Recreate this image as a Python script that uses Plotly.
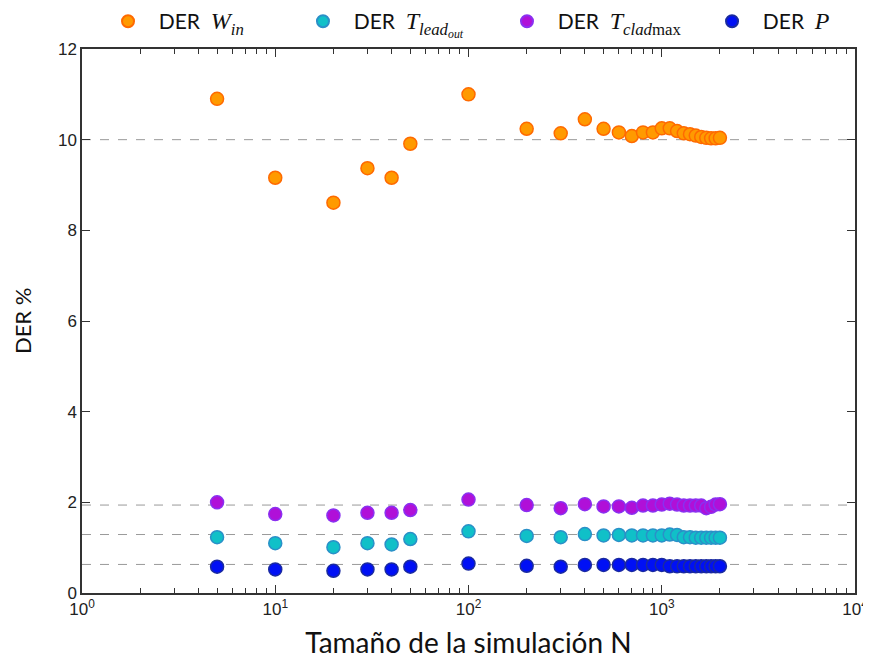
import plotly.graph_objects as go

# ---- data ----
N = [5, 10, 20, 30, 40, 50, 100, 200, 300, 400, 500, 600, 700, 800, 900,
     1000, 1100, 1200, 1300, 1400, 1500, 1600, 1700, 1800, 1900, 2000]

der_win = [10.90, 9.16, 8.61, 9.37, 9.16, 9.91, 11.00, 10.24, 10.14, 10.45,
           10.24, 10.16, 10.08, 10.16, 10.16, 10.25, 10.25, 10.19, 10.14,
           10.12, 10.09, 10.06, 10.04, 10.03, 10.03, 10.04]
der_tlead = [1.23, 1.10, 1.01, 1.10, 1.07, 1.19, 1.36, 1.26, 1.23, 1.30,
             1.27, 1.28, 1.27, 1.27, 1.27, 1.27, 1.29, 1.28, 1.23, 1.23,
             1.22, 1.22, 1.22, 1.22, 1.22, 1.22]
der_tclad = [2.00, 1.74, 1.71, 1.77, 1.77, 1.83, 2.06, 1.94, 1.87, 1.96,
             1.91, 1.91, 1.88, 1.93, 1.93, 1.95, 1.97, 1.95, 1.93, 1.93,
             1.93, 1.93, 1.87, 1.90, 1.95, 1.96]
der_p = [0.58, 0.52, 0.49, 0.52, 0.52, 0.58, 0.65, 0.60, 0.58, 0.62,
         0.62, 0.62, 0.62, 0.62, 0.62, 0.62, 0.59, 0.59, 0.59, 0.59,
         0.59, 0.59, 0.59, 0.59, 0.59, 0.59]

ref_lines = [10.0, 1.94, 1.29, 0.63]

x_tickvals = [1, 10, 100, 1000, 10000]
x_ticktext = ["10<sup>0</sup>", "10<sup>1</sup>", "10<sup>2</sup>",
              "10<sup>3</sup>", "10<sup>4</sup>"]
x_minor = [m * 10 ** d for d in range(4) for m in range(2, 10)]
y_tickvals = [0, 2, 4, 6, 8, 10, 12]

x_title = "Tamaño de la simulación N"
y_title = "DER %"

SERIF = "Liberation Serif"
def mathlbl(body):
    return ('\u00a0\u00a0DER \u00a0<span style="font-family:%s;font-size:24px">%s</span>'
            % (SERIF, body))

names = [
    mathlbl("<i>W</i><sub><i>in</i></sub>"),
    mathlbl("<i>T</i><sub><i>lead<sub>out</sub></i></sub>"),
    mathlbl("<i>T</i><sub><i>clad</i>max</sub>"),
    mathlbl("<i>P</i>"),
]
series = [der_win, der_tlead, der_tclad, der_p]
fills = ["#FF9A00", "#10C0C8", "#B010D8", "#0010F5"]
edges = ["#FF6A00", "#2A90C8", "#8A30F0", "#1A2AA0"]
legend_ids = ["legend", "legend2", "legend3", "legend4"]
legend_x = [0.1159, 0.3418, 0.5782, 0.8158]

W, H = 863, 664  # page body has an 8px margin

fig = go.Figure()
for nm, ys, fc, ec, lid in zip(names, series, fills, edges, legend_ids):
    fig.add_trace(go.Scatter(
        x=N, y=ys, mode="markers", name=nm, legend=lid,
        marker=dict(size=13, color=fc, line=dict(color=ec, width=1.5)),
    ))

for v in ref_lines:
    fig.add_shape(type="line", xref="paper", x0=0, x1=1, yref="y", y0=v, y1=v,
                  line=dict(color="#9a9a9a", width=1, dash="dash"), layer="below")

axis_common = dict(
    showline=True, linecolor="#333333", linewidth=1.5, mirror="allticks",
    ticks="inside", ticklen=8, tickwidth=1, tickcolor="#333333",
    showgrid=False, zeroline=False, automargin=False,
    tickfont=dict(family="Liberation Sans", size=17, color="#222222"),
)

fig.update_xaxes(
    type="log", range=[0, 4], tickmode="array",
    tickvals=x_tickvals, ticktext=x_ticktext,
    minor=dict(tickmode="array", tickvals=x_minor, ticks="inside", ticklen=5,
               tickcolor="#333333", showgrid=False),
    title=dict(text=x_title,
               font=dict(family="Lato", size=28, color="#111111")),
    **axis_common,
)
fig.update_yaxes(
    range=[0, 12], tickmode="array", tickvals=y_tickvals,
    **axis_common,
)

fig.add_annotation(
    text=y_title, textangle=-90, showarrow=False,
    xref="paper", yref="paper", x=-0.0775, y=0.5,
    xanchor="center", yanchor="middle", borderpad=0,
    font=dict(family="Lato", size=22, color="#111111"),
)

legend_style = dict(orientation="h", xref="container", yref="paper",
                    xanchor="left", y=1.088, yanchor="top",
                    font=dict(family="Lato", size=21, color="#111111"),
                    bgcolor="rgba(0,0,0,0)", itemsizing="constant")

fig.update_layout(
    width=W, height=H,
    margin=dict(l=74, r=16, t=41, b=79, autoexpand=False),
    paper_bgcolor="white", plot_bgcolor="white",
    showlegend=True,
)
for lid, lx in zip(legend_ids, legend_x):
    fig.update_layout({lid: dict(x=lx, **legend_style)})

fig.write_html("out.html")
